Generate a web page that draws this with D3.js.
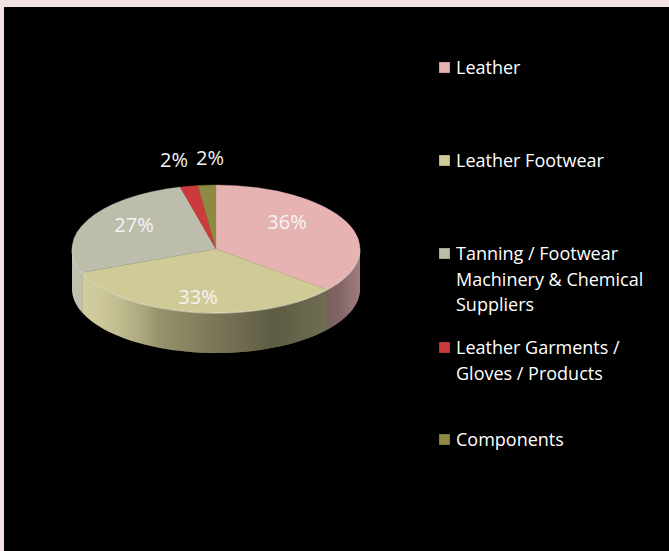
<!DOCTYPE html>
<meta charset="utf-8">
<style type="text/css">
html, body {
    margin: 0;
    padding: 0;
    background: #000;
    overflow: hidden;
}
svg {
    display: block;
    font-family: "Open Sans", "Noto Sans", sans-serif;
}
</style>
<body>
    <script src="https://d3js.org/d3.v7.min.js"></script>
    <script>
        // chart data
        let categories = ["Leather", "Leather Footwear", "Tanning / Footwear Machinery & Chemical Suppliers", "Leather Garments / Gloves / Products", "Components"];
        let values = [36, 33, 27, 2, 2];
        let labels = ["36%", "33%", "27%", "2%", "2%"];
        let legendLines = [["Leather"], ["Leather Footwear"], ["Tanning / Footwear", "Machinery & Chemical", "Suppliers"], ["Leather Garments /", "Gloves / Products"], ["Components"]];
        let colors = ["#e6b2b2", "#d0cb96", "#bdbdab", "#cc3b3b", "#8e8a44"];

        let W = 669, H = 551;
        let svg = d3.select("body")
            .append("svg")
            .attr("width", W)
            .attr("height", H);

        // black plot area with a pink frame on top and left
        svg.append("rect")
            .attr("width", W).attr("height", H)
            .attr("fill", "#000");
        svg.append("rect")
            .attr("width", W).attr("height", 7)
            .attr("fill", "#f4e2e2");
        svg.append("rect")
            .attr("width", 4).attr("height", H)
            .attr("fill", "#f4e2e2");

        let cx = 216, cy = 249, rx = 144, ry = 64, depth = 40;

        let color = d3.scaleOrdinal().domain(categories).range(colors);

        let pieGen = d3.pie().sort(null).value(d => d.v);
        let slices = pieGen(categories.map((c, i) => ({ c: c, v: values[i], label: labels[i] })));

        let defs = svg.append("defs");
        let shade = defs.append("linearGradient")
            .attr("id", "sideShade")
            .attr("gradientUnits", "userSpaceOnUse")
            .attr("x1", -rx).attr("x2", rx)
            .attr("y1", 0).attr("y2", 0);
        [[0, "#fff", 0.05], [0.3, "#000", 0.28], [0.7, "#000", 0.55], [0.92, "#000", 0.45], [1, "#000", 0.3]]
            .forEach(s => shade.append("stop").attr("offset", s[0]).attr("stop-color", s[1]).attr("stop-opacity", s[2]));

        let pie = svg.append("g").attr("transform", `translate(${cx},${cy})`);

        // point on the top rim at angle a (clockwise from 12 o'clock)
        let rim = (a, dy) => [rx * Math.sin(a), -ry * Math.cos(a) + dy];

        // side walls, only the front half is visible
        function sidePath(d) {
            let a0 = Math.max(d.startAngle, Math.PI / 2);
            let a1 = Math.min(d.endAngle, Math.PI * 1.5);
            if (a1 <= a0) return null;
            let n = 40;
            let angles = d3.range(n + 1).map(k => a0 + (a1 - a0) * k / n);
            let pts = angles.map(a => rim(a, 0)).concat(angles.slice().reverse().map(a => rim(a, depth)));
            return d3.line()(pts) + "Z";
        }

        let sides = slices.filter(d => sidePath(d));
        pie.selectAll("path.side")
            .data(sides)
            .join("path")
            .attr("class", "side")
            .attr("d", sidePath)
            .attr("fill", d => color(d.data.c));
        pie.selectAll("path.shade")
            .data(sides)
            .join("path")
            .attr("class", "shade")
            .attr("d", sidePath)
            .attr("fill", "url(#sideShade)");

        // top face: flat arcs squashed into an ellipse
        let arcGen = d3.arc().innerRadius(0).outerRadius(rx);
        pie.append("g")
            .attr("transform", `scale(1,${ry / rx})`)
            .selectAll("path")
            .data(slices)
            .join("path")
            .attr("d", arcGen)
            .attr("fill", d => color(d.data.c))
            .attr("stroke", d => color(d.data.c))
            .attr("stroke-width", 0.5);

        // soft highlight along the front rim
        let frontRim = d3.range(61).map(k => rim(Math.PI / 2 + Math.PI * k / 60, 0));
        pie.append("path")
            .attr("d", d3.line()(frontRim))
            .attr("fill", "none")
            .attr("stroke", "#fff")
            .attr("stroke-opacity", 0.35)
            .attr("stroke-width", 1.5);

        // percentage labels
        let labelPos = [[287, 229], [198, 304], [134, 232], [174, 167], [210, 165]];
        svg.selectAll("text.pct")
            .data(slices)
            .join("text")
            .attr("class", "pct")
            .attr("x", (d, i) => labelPos[i][0])
            .attr("y", (d, i) => labelPos[i][1])
            .attr("text-anchor", "middle")
            .attr("fill", "#f4f4f4")
            .attr("font-size", 20)
            .text(d => d.data.label);

        // legend
        let legendY = [68, 161, 254, 348, 440];
        let lg = svg.append("g").selectAll("g")
            .data(categories)
            .join("g")
            .attr("transform", (d, i) => `translate(439,${legendY[i]})`);
        lg.append("rect")
            .attr("x", 0).attr("y", -6)
            .attr("width", 11).attr("height", 11)
            .attr("fill", d => color(d))
            .attr("stroke", "#000")
            .attr("stroke-opacity", 0.25);
        lg.append("text")
            .attr("fill", "#fff")
            .attr("font-size", 18)
            .selectAll("tspan")
            .data((d, i) => legendLines[i])
            .join("tspan")
            .attr("x", 17)
            .attr("dy", (d, i) => i === 0 ? "0.35em" : "25.5")
            .text(d => d);
    </script>
</body>
